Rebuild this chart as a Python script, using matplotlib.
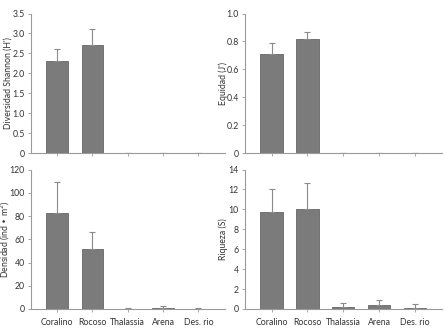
import matplotlib
matplotlib.use("Agg")
import matplotlib.pyplot as plt
import numpy as np

plt.rcParams['font.family'] = ['Lato', 'DejaVu Sans']

sites = ["Coralino", "Rocoso", "Thalassia", "Arena", "Des. rio"]

shannon = [2.32, 2.72, 0, 0, 0]
shannon_sd = [0.30, 0.38, 0, 0, 0]

equidad = [0.71, 0.82, 0, 0, 0]
equidad_sd = [0.08, 0.05, 0, 0, 0]

densidad = [83, 51.5, 0.3, 1.2, 0.1]
densidad_sd = [26, 15, 0.4, 1.3, 0.5]

riqueza = [9.7, 10.0, 0.25, 0.4, 0.15]
riqueza_sd = [2.3, 2.6, 0.35, 0.55, 0.35]

W, H = 445, 328
fig = plt.figure(figsize=(W / 100, H / 100), dpi=100)

bar_col = "#7b7b7b"
edge_col = "#666666"
err_col = "#8a8a8a"
spine_col = "#9a9a9a"
txt_col = "#333333"


def panel(rect, vals, errs, ylim, yticks, ylabels, ylabel, show_x, lab_x):
    ax = fig.add_axes(rect)
    x = np.arange(len(sites))
    ax.bar(x, vals, width=0.62, color=bar_col, edgecolor=edge_col, linewidth=0.6,
           yerr=[np.zeros(len(errs)), errs],
           error_kw=dict(ecolor=err_col, elinewidth=0.8, capsize=2, capthick=0.8))
    ax.set_xlim(-0.74, 4.75)
    ax.set_ylim(*ylim)
    ax.set_yticks(yticks)
    ax.set_yticklabels(ylabels)
    ax.set_xticks(x)
    if show_x:
        ax.set_xticklabels(sites)
    else:
        ax.set_xticklabels([])
    for s in ["top", "right"]:
        ax.spines[s].set_visible(False)
    for s in ["left", "bottom"]:
        ax.spines[s].set_color(spine_col)
        ax.spines[s].set_linewidth(0.8)
    ax.tick_params(direction="out", length=2.5, width=0.6, color=spine_col,
                   labelsize=6.3, labelcolor=txt_col, pad=2)
    ax.tick_params(axis="x", pad=4)
    ax.set_ylabel(ylabel, fontsize=6.3, color=txt_col)
    ax.yaxis.set_label_coords(lab_x, 0.5)
    return ax


left_x, left_w = 31 / W, (225 - 31) / W
right_x, right_w = 245 / W, (442 - 245) / W
top_y, top_h = 1 - 153 / H, (153 - 13.5) / H
bot_y, bot_h = 1 - 309 / H, (309 - 169.5) / H
# label anchor sits at the right edge of the rotated text
lab_left = (12.5 - 31) / (225 - 31)
lab_right = (227.5 - 245) / (442 - 245)

panel([left_x, top_y, left_w, top_h], shannon, shannon_sd, (0, 3.5),
      np.arange(0, 3.51, 0.5), ["0", "0.5", "1.0", "1.5", "2.0", "2.5", "3.0", "3.5"],
      "Diversidad Shannon (H')", False, lab_left)
panel([right_x, top_y, right_w, top_h], equidad, equidad_sd, (0, 1.0),
      np.arange(0, 1.01, 0.2), ["0", "0.2", "0.4", "0.6", "0.8", "1.0"],
      "Equidad (J')", False, lab_right)
panel([left_x, bot_y, left_w, bot_h], densidad, densidad_sd, (0, 120),
      np.arange(0, 121, 20), [str(v) for v in range(0, 121, 20)],
      "Densidad (ind • m$^{2}$)", True, lab_left)
panel([right_x, bot_y, right_w, bot_h], riqueza, riqueza_sd, (0, 14),
      np.arange(0, 15, 2), [str(v) for v in range(0, 15, 2)],
      "Riqueza (S)", True, lab_right)

fig.savefig("out.png", dpi=100)
